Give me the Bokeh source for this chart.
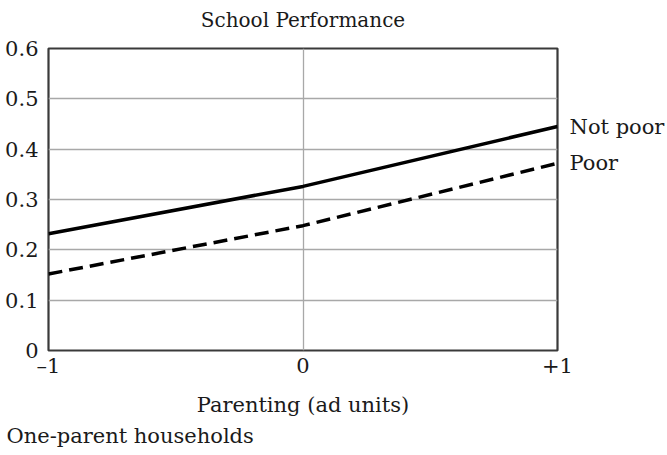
from bokeh.plotting import figure
from bokeh.models import FixedTicker, Range1d, LinearAxis, Title
from bokeh.embed import file_html
from bokeh.resources import INLINE

# ---- data ----
parenting = [-1, 0, 1]
not_poor = [0.232, 0.326, 0.445]
poor = [0.152, 0.248, 0.372]
x_ticks = [-1, 0, 1]
x_tick_labels = ["\u20131", "0", "+1"]
y_ticks = [0, 0.1, 0.2, 0.3, 0.4, 0.5, 0.6]
y_tick_labels = ["0", "0.1", "0.2", "0.3", "0.4", "0.5", "0.6"]
title_text = "School Performance"
x_label = "Parenting (ad units)"
panel_note = "One-parent households"
series_names = ["Not poor", "Poor"]

FONT = "DejaVu Serif"
INK = "#1a1a1a"
FS = "21px"

p = figure(width=667, height=455, output_backend="svg", toolbar_location=None,
           x_range=Range1d(-1, 1), y_range=Range1d(0, 0.6),
           min_border_left=48, min_border_right=110,
           min_border_top=48, min_border_bottom=105)
p.background_fill_color = "white"
p.border_fill_color = "white"
p.outline_line_color = "#3a3a3a"
p.outline_line_width = 2.2

# axes
def style_axis(ax):
    ax.axis_line_color = None
    ax.major_tick_line_color = None
    ax.minor_tick_line_color = None
    ax.major_label_text_font = FONT
    ax.major_label_text_font_size = FS
    ax.major_label_text_color = INK

for ax in (p.xaxis[0], p.yaxis[0]):
    style_axis(ax)
p.xaxis.major_label_standoff = -3
p.yaxis.major_label_standoff = 4

p.xaxis.ticker = FixedTicker(ticks=x_ticks)
p.xaxis.major_label_overrides = {t: l for t, l in zip(x_ticks, x_tick_labels)}
p.yaxis.ticker = FixedTicker(ticks=y_ticks)
p.yaxis.major_label_overrides = {t: l for t, l in zip(y_ticks, y_tick_labels)}

p.xaxis.axis_label = x_label
p.xaxis.axis_label_text_font = FONT
p.xaxis.axis_label_text_font_style = "normal"
p.xaxis.axis_label_text_font_size = FS
p.xaxis.axis_label_text_color = INK
p.xaxis.axis_label_standoff = 12

# title as a single centred label on an axis above the frame
top = LinearAxis(ticker=FixedTicker(ticks=[0]),
                 major_label_overrides={0: title_text})
style_axis(top)
top.major_label_text_font_size = "20px"
top.major_label_standoff = 11
p.add_layout(top, "above")

# right-side series labels as an axis with ticks at the line ends
end_vals = [not_poor[-1], poor[-1]]
right = LinearAxis(ticker=FixedTicker(ticks=end_vals),
                   major_label_overrides={v: n for v, n in zip(end_vals, series_names)})
style_axis(right)
right.major_label_standoff = 6
p.add_layout(right, "right")

# bottom note
note = Title(text=panel_note, align="left", offset=-42, standoff=4,
             text_font=FONT, text_font_style="normal", text_font_size=FS,
             text_color=INK)
p.add_layout(note, "below")

# grids
p.xgrid.ticker = FixedTicker(ticks=[0])
p.xgrid.grid_line_color = "#a8a8a8"
p.xgrid.grid_line_width = 1.3
p.ygrid.ticker = FixedTicker(ticks=y_ticks[1:-1])
p.ygrid.grid_line_color = "#a8a8a8"
p.ygrid.grid_line_width = 1.6

# lines
p.line(parenting, not_poor, line_color="black", line_width=3.5)
p.line(parenting, poor, line_color="black", line_width=3.5, line_dash="14 7")

open("out.html", "w").write(file_html(p, INLINE))
